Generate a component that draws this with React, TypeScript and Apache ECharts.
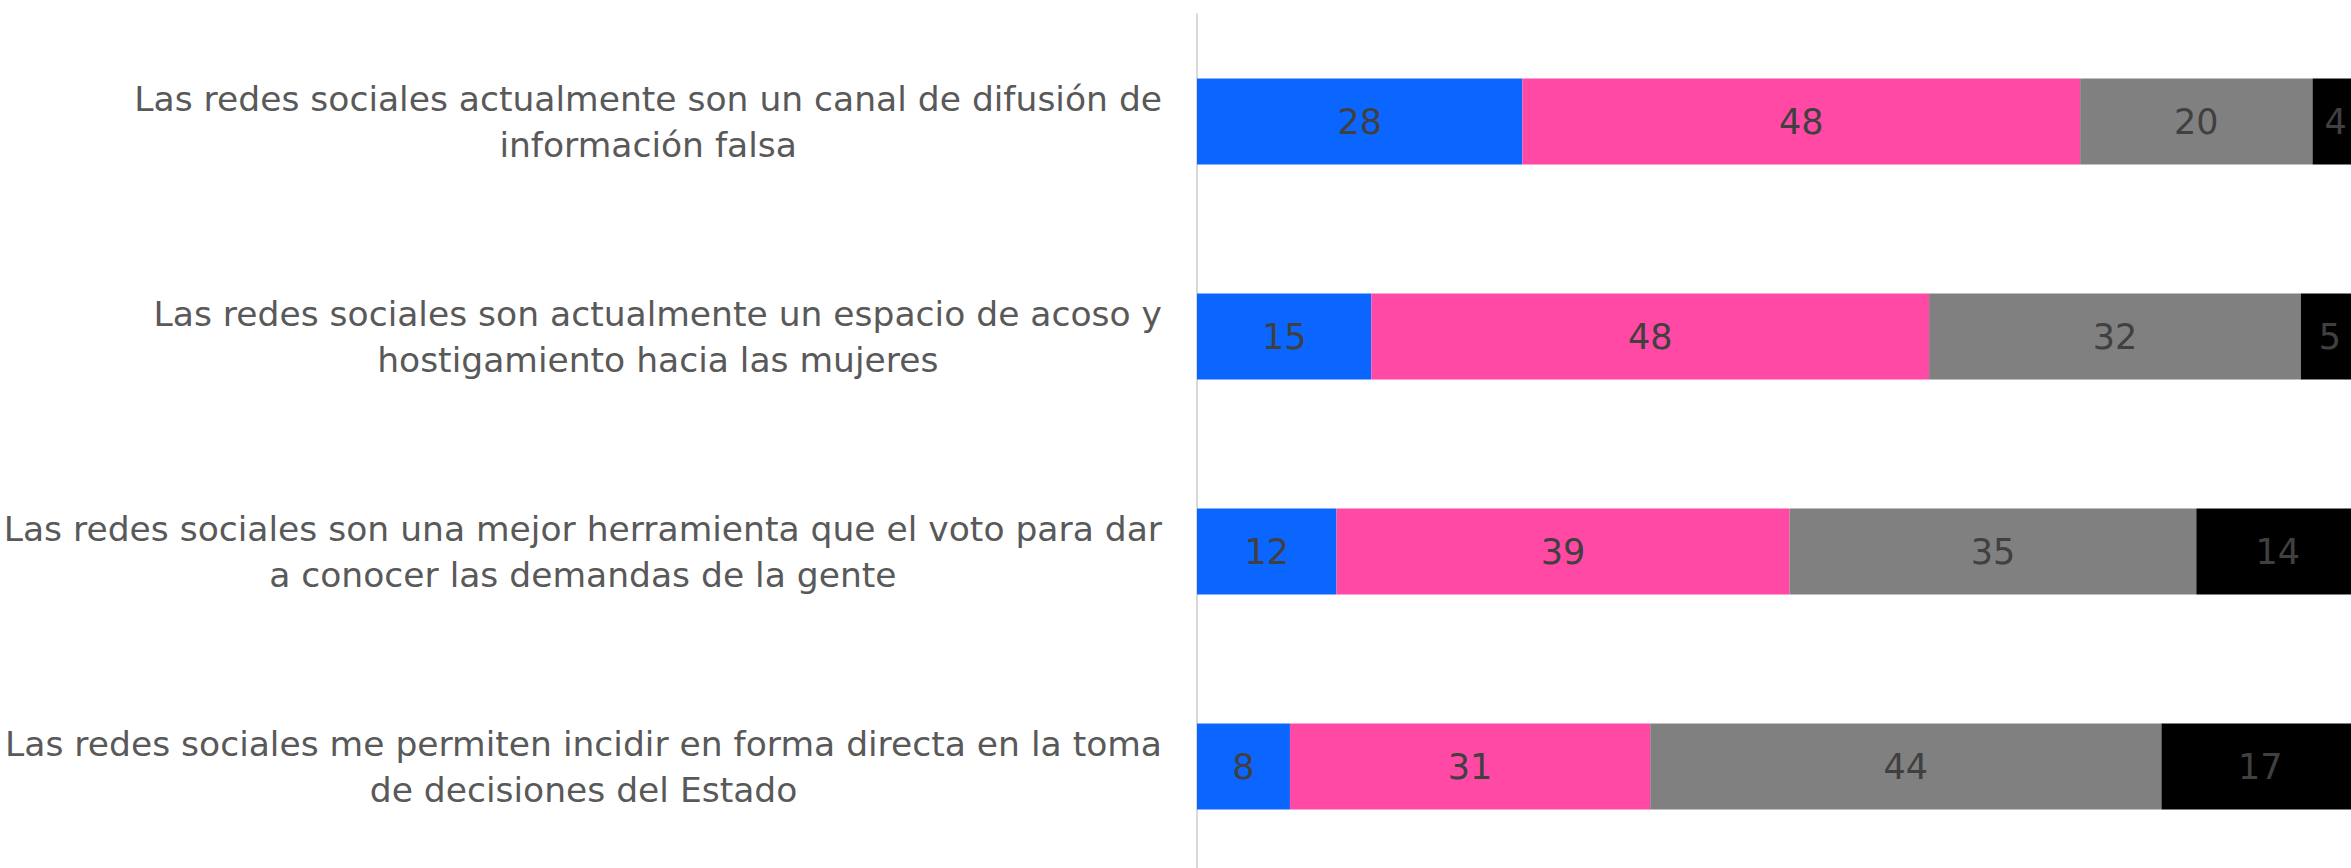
import React, { useEffect, useRef } from "react";
import * as echarts from "echarts";

const categories = [
  "Las redes sociales actualmente son un canal de difusión de\ninformación falsa",
  "Las redes sociales son actualmente un espacio de acoso y\nhostigamiento hacia las mujeres",
  "Las redes sociales son una mejor herramienta que el voto para dar\na conocer las demandas de la gente",
  "Las redes sociales me permiten incidir en forma directa en la toma\nde decisiones del Estado",
];

const seriesNames = ["Serie 1", "Serie 2", "Serie 3", "Serie 4"];
const serie1 = [28, 15, 12, 8];
const serie2 = [48, 48, 39, 31];
const serie3 = [20, 32, 35, 44];
const serie4 = [4, 5, 14, 17];
const colors = ["#0b66ff", "#ff49a5", "#808080", "#000000"];

const FONT = "DejaVu Sans";

export default function App() {
  const ref = useRef<HTMLDivElement>(null);
  useEffect(() => {
    if (!ref.current) return;
    const chart = echarts.init(ref.current, null, { renderer: "svg" });
    const values = [serie1, serie2, serie3, serie4];
    chart.setOption({
      animation: false,
      backgroundColor: "#ffffff",
      grid: { left: 1197, right: 0, top: 14, bottom: 0, containLabel: false },
      xAxis: {
        type: "value",
        min: 0,
        max: 100,
        show: false,
      },
      yAxis: {
        type: "category",
        data: categories,
        inverse: true,
        axisLine: { show: true, lineStyle: { color: "#d9d9d9", width: 2 } },
        axisTick: { show: false },
        splitLine: { show: false },
        axisLabel: {
          margin: 35,
          fontFamily: FONT,
          fontSize: 34.5,
          color: "#595959",
          lineHeight: 46,
          formatter: (v: string) =>
            v
              .split("\n")
              .map((l) => `{c|${l}}`)
              .join("\n"),
          rich: {
            c: {
              align: "center",
              fontFamily: FONT,
              fontSize: 34.5,
              color: "#595959",
              lineHeight: 46,
            },
          },
        },
      },
      series: values.map((vals, i) => ({
        name: seriesNames[i],
        type: "bar",
        stack: "total",
        barWidth: "40%",
        data: vals,
        itemStyle: { color: colors[i] },
        label: {
          show: true,
          position: "inside",
          color: "#404040",
          fontFamily: FONT,
          fontSize: 35,
        },
      })),
    });
    return () => chart.dispose();
  }, []);
  return (
    <div
      style={{
        position: "fixed",
        left: 0,
        top: 0,
        width: 2351,
        height: 868,
        overflow: "hidden",
        background: "#ffffff",
      }}
    >
      <div ref={ref} style={{ width: 2359, height: 874 }} />
    </div>
  );
}
